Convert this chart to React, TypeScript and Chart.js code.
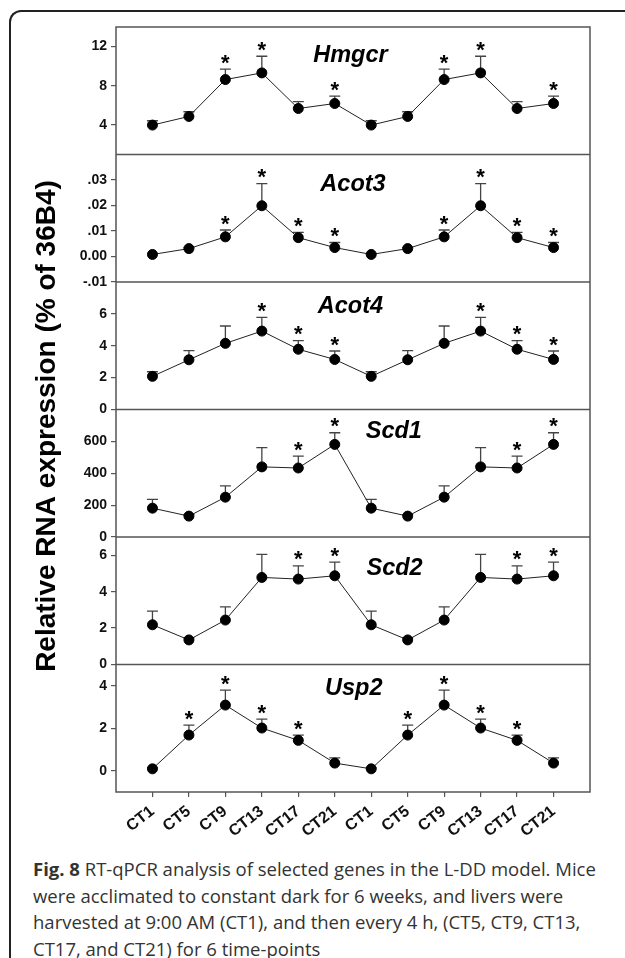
import React, { useEffect, useRef } from 'react';
import { Chart, registerables } from 'chart.js';

Chart.register(...registerables);

// ---- Data ----
const timePoints = ['CT1', 'CT5', 'CT9', 'CT13', 'CT17', 'CT21', 'CT1', 'CT5', 'CT9', 'CT13', 'CT17', 'CT21'];

const hmgcrMean = [4.0, 4.88, 8.64, 9.32, 5.69, 6.2, 4.0, 4.88, 8.64, 9.32, 5.69, 6.2];
const hmgcrSem = [0.44, 0.48, 1.06, 1.7, 0.71, 0.75, 0.44, 0.48, 1.06, 1.7, 0.71, 0.75];
const hmgcrSig = [false, false, true, true, false, true, false, false, true, true, false, true];
const hmgcrTicks = [4, 8, 12];
const hmgcrTickLabels = ['4', '8', '12'];

const acot3Mean = [0.0008, 0.0031, 0.0077, 0.0199, 0.0074, 0.0035, 0.0008, 0.0031, 0.0077, 0.0199, 0.0074, 0.0035];
const acot3Sem = [0.0003, 0.0004, 0.0027, 0.0087, 0.0021, 0.002, 0.0003, 0.0004, 0.0027, 0.0087, 0.0021, 0.002];
const acot3Sig = [false, false, true, true, true, true, false, false, true, true, true, true];
const acot3Ticks = [-0.01, 0, 0.01, 0.02, 0.03];
const acot3TickLabels = ['-.01', '0.00', '.01', '.02', '.03'];

const acot4Mean = [2.08, 3.12, 4.15, 4.92, 3.78, 3.14, 2.08, 3.12, 4.15, 4.92, 3.78, 3.14];
const acot4Sem = [0.29, 0.57, 1.09, 0.86, 0.54, 0.53, 0.29, 0.57, 1.09, 0.86, 0.54, 0.53];
const acot4Sig = [false, false, false, true, true, true, false, false, false, true, true, true];
const acot4Ticks = [0, 2, 4, 6];
const acot4TickLabels = ['0', '2', '4', '6'];

const scd1Mean = [181, 131, 250, 440, 433, 581, 181, 131, 250, 440, 433, 581];
const scd1Sem = [55, 10, 71, 121, 75, 73, 55, 10, 71, 121, 75, 73];
const scd1Sig = [false, false, false, false, true, true, false, false, false, false, true, true];
const scd1Ticks = [0, 200, 400, 600];
const scd1TickLabels = ['0', '200', '400', '600'];

const scd2Mean = [2.18, 1.35, 2.44, 4.78, 4.69, 4.87, 2.18, 1.35, 2.44, 4.78, 4.69, 4.87];
const scd2Sem = [0.75, 0.12, 0.72, 1.27, 0.73, 0.75, 0.75, 0.12, 0.72, 1.27, 0.73, 0.75];
const scd2Sig = [false, false, false, false, true, true, false, false, false, false, true, true];
const scd2Ticks = [0, 2, 4, 6];
const scd2TickLabels = ['0', '2', '4', '6'];

const usp2Mean = [0.09, 1.68, 3.09, 2.01, 1.43, 0.36, 0.09, 1.68, 3.09, 2.01, 1.43, 0.36];
const usp2Sem = [0.05, 0.47, 0.7, 0.42, 0.25, 0.25, 0.05, 0.47, 0.7, 0.42, 0.25, 0.25];
const usp2Sig = [false, true, true, true, true, false, false, true, true, true, true, false];
const usp2Ticks = [0, 2, 4];
const usp2TickLabels = ['0', '2', '4'];

const yAxisTitle = 'Relative RNA expression (% of 36B4)';

// ---- Panel table built from the arrays above ----
const panels = [
  { gene: 'Hmgcr', mean: hmgcrMean, sem: hmgcrSem, sig: hmgcrSig, min: 1, max: 14, ticks: hmgcrTicks, labels: hmgcrTickLabels, tx: 5.43, ty: 11.32 },
  { gene: 'Acot3', mean: acot3Mean, sem: acot3Sem, sig: acot3Sig, min: -0.01, max: 0.04, ticks: acot3Ticks, labels: acot3TickLabels, tx: 5.5, ty: 0.029 },
  { gene: 'Acot4', mean: acot4Mean, sem: acot4Sem, sig: acot4Sig, min: 0, max: 8, ticks: acot4Ticks, labels: acot4TickLabels, tx: 5.43, ty: 6.57 },
  { gene: 'Scd1', mean: scd1Mean, sem: scd1Sem, sig: scd1Sig, min: 0, max: 800, ticks: scd1Ticks, labels: scd1TickLabels, tx: 6.62, ty: 677 },
  { gene: 'Scd2', mean: scd2Mean, sem: scd2Sem, sig: scd2Sig, min: 0, max: 7, ticks: scd2Ticks, labels: scd2TickLabels, tx: 6.64, ty: 5.38 },
  { gene: 'Usp2', mean: usp2Mean, sem: usp2Sem, sig: usp2Sig, min: -1, max: 5, ticks: usp2Ticks, labels: usp2TickLabels, tx: 5.52, ty: 3.98 },
];

const FONT = '"Liberation Sans", Arial, Helvetica, sans-serif';

const figurePlugin = {
  id: 'figurePlugin',
  beforeDatasetsDraw(chart: any) {
    const ctx = chart.ctx;
    const xs = chart.scales.x;
    ctx.save();
    ctx.strokeStyle = '#444';
    ctx.lineWidth = 1.3;
    panels.forEach((p, k) => {
      const ys = chart.scales['y' + k];
      p.mean.forEach((m, i) => {
        const x = xs.getPixelForValue(i);
        const y0 = ys.getPixelForValue(m);
        const y1 = ys.getPixelForValue(m + p.sem[i]);
        ctx.beginPath();
        ctx.moveTo(x, y0);
        ctx.lineTo(x, y1);
        ctx.moveTo(x - 5.5, y1);
        ctx.lineTo(x + 5.5, y1);
        ctx.stroke();
      });
    });
    ctx.restore();
  },
  afterDatasetsDraw(chart: any) {
    const ctx = chart.ctx;
    const xs = chart.scales.x;
    ctx.save();
    ctx.fillStyle = '#000';
    ctx.textAlign = 'center';
    ctx.textBaseline = 'alphabetic';
    panels.forEach((p, k) => {
      const ys = chart.scales['y' + k];
      const fs = 22;
      ctx.font = `bold ${fs}px ${FONT}`;
      p.mean.forEach((m, i) => {
        if (!p.sig[i]) return;
        const x = xs.getPixelForValue(i);
        const yTop = ys.getPixelForValue(m + p.sem[i]);
        const center = yTop - 12;
        ctx.fillText('*', x, center + 0.57 * fs);
      });
      const ts = 23.5;
      ctx.font = `italic bold ${ts}px ${FONT}`;
      const gx = xs.getPixelForValue(p.tx);
      const gy = ys.getPixelForValue(p.ty);
      ctx.fillText(p.gene, gx, gy + 0.358 * ts);
    });
    ctx.restore();
  },
  afterDraw(chart: any) {
    const ctx = chart.ctx;
    const { left, right, top, bottom } = chart.chartArea;
    ctx.save();
    ctx.strokeStyle = '#555';
    ctx.lineWidth = 1.5;
    ctx.strokeRect(left, top, right - left, bottom - top);
    for (let k = 0; k < panels.length - 1; k++) {
      const y = chart.scales['y' + k].bottom;
      ctx.beginPath();
      ctx.moveTo(left, y);
      ctx.lineTo(right, y);
      ctx.stroke();
    }
    ctx.translate(47, 426);
    ctx.rotate(-Math.PI / 2);
    ctx.fillStyle = '#000';
    ctx.font = `bold 28px ${FONT}`;
    ctx.textAlign = 'center';
    ctx.textBaseline = 'middle';
    ctx.fillText(yAxisTitle, 0, 0);
    ctx.restore();
  },
};

export default function App() {
  const ref = useRef<HTMLCanvasElement>(null);

  useEffect(() => {
    const canvas = ref.current;
    if (!canvas) return;
    const scales: any = {
      x: {
        type: 'linear',
        position: 'bottom',
        min: -1,
        max: 12,
        afterBuildTicks: (s: any) => {
          s.ticks = timePoints.map((_, i) => ({ value: i }));
        },
        afterFit: (s: any) => {
          s.height = 48;
        },
        ticks: {
          autoSkip: false,
          minRotation: 38,
          maxRotation: 38,
          padding: 5,
          color: '#111',
          font: { family: FONT, size: 16, weight: 'bold' },
          callback: (_v: any, i: number) => timePoints[i],
        },
        grid: { drawOnChartArea: false, drawTicks: true, tickLength: 5, color: '#555', lineWidth: 1.2 },
        border: { display: false },
      },
    };
    panels.forEach((p, k) => {
      scales['y' + k] = {
        type: 'linear',
        position: 'left',
        stack: 'genes',
        stackWeight: 1,
        weight: panels.length - k,
        min: p.min,
        max: p.max,
        afterBuildTicks: (s: any) => {
          s.ticks = p.ticks.map((v) => ({ value: v }));
        },
        afterFit: (s: any) => {
          s.width = 116;
        },
        ticks: {
          autoSkip: false,
          padding: 4,
          color: '#111',
          font: { family: FONT, size: 14, weight: 'bold' },
          callback: (_v: any, i: number) => p.labels[i],
        },
        grid: { drawOnChartArea: false, drawTicks: true, tickLength: 5, color: '#555', lineWidth: 1.2 },
        border: { display: false },
      };
    });

    const chart = new Chart(canvas, {
      type: 'line',
      data: {
        datasets: panels.map((p, k) => ({
          label: p.gene,
          yAxisID: 'y' + k,
          xAxisID: 'x',
          data: p.mean.map((m, i) => ({ x: i, y: m })),
          borderColor: '#222',
          borderWidth: 1,
          pointRadius: 5,
          pointBorderWidth: 1,
          pointBackgroundColor: '#000',
          pointBorderColor: '#000',
          tension: 0,
          fill: false,
          clip: false,
        })),
      },
      options: {
        responsive: false,
        animation: false,
        devicePixelRatio: 1,
        events: [],
        layout: { padding: { left: 0, top: 27, right: 35, bottom: 0 } },
        plugins: { legend: { display: false }, tooltip: { enabled: false }, title: { display: false } },
        scales,
      },
      plugins: [figurePlugin],
    } as any);

    return () => chart.destroy();
  }, []);

  return (
    <div style={{ position: 'fixed', left: 0, top: 0, width: 625, height: 958, background: '#fff', overflow: 'hidden' }}>
      <div
        style={{
          position: 'absolute',
          left: 9,
          top: 10,
          width: 640,
          height: 980,
          borderTop: '2px solid #222',
          borderLeft: '2px solid #222',
          borderTopLeftRadius: 12,
          boxSizing: 'border-box',
        }}
      />
      <canvas ref={ref} width={625} height={840} style={{ position: 'absolute', left: 0, top: 0, width: 625, height: 840 }} />
      <div
        style={{
          position: 'absolute',
          left: 33,
          top: 856,
          fontFamily: '"Open Sans", "Noto Sans", sans-serif',
          fontSize: 18.5,
          lineHeight: '26.7px',
          color: '#333',
          whiteSpace: 'nowrap',
        }}
      >
        <b>Fig. 8</b> RT-qPCR analysis of selected genes in the L-DD model. Mice
        <br />
        were acclimated to constant dark for 6 weeks, and livers were
        <br />
        harvested at 9:00 AM (CT1), and then every 4 h, (CT5, CT9, CT13,
        <br />
        CT17, and CT21) for 6 time-points
      </div>
    </div>
  );
}
